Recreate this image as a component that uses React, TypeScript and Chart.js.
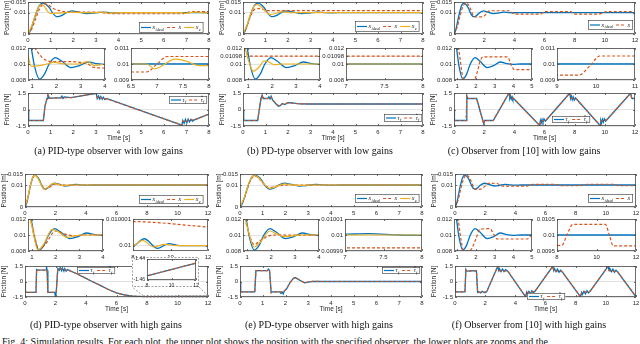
import React, { useEffect, useRef } from "react";
import { Chart, registerables } from "chart.js";

Chart.register(...registerables);

const BLUE = "#0072BD";
const RED = "#D95319";
const YEL = "#EDB120";
const SANS = "'Liberation Sans', Arial, Helvetica, sans-serif";
const SERIF = "'Liberation Serif', 'DejaVu Serif', serif";
const DASH = [3, 2];

// ---------- tick values ----------
const X8_TICKS = [0, 1, 2, 3, 4, 5, 6, 7, 8];
const X12_TICKS = [0, 2, 4, 6, 8, 10, 12];
const ZX4_TICKS = [1, 2, 3, 4];
const ZX5_TICKS = [1, 2, 3, 4, 5];
const POS_TICKS = [0, 0.01, 0.015];
const FRIC_TICKS = [-1.5, 0, 1.5];
const ZOOM_TICKS = [0.008, 0.01, 0.012];
const ZOOM_TICKS_B = [0.008, 0.01, 0.01098, 0.012];
const FINE_Y_A = [0.009, 0.01, 0.011];
const FINE_X_A = [6.5, 7, 7.5, 8];
const FINE_X_B = [7, 7.5, 8];
const FINE_Y_C = [0.009, 0.01, 0.011];
const FINE_X_C = [9, 10, 11];
const FINE_Y_D = [0.01, 0.010001];
const FINE_X_D = [8, 10, 12];
const FINE_Y_E = [0.00999, 0.01, 0.01001];
const FINE_X_E = [7, 7.5, 8];
const FINE_Y_F = [0.0095, 0.01, 0.0105];
const FINE_X_F = [8, 10, 12];
const INSET_D_X = [8, 10, 12];
const INSET_D_Y = [-1.46, -1.44];

// ---------- ideal position (shared) ----------
const IDEAL_T = [0, 0.1, 0.2, 0.35, 0.5, 0.65, 0.8, 0.95, 1.1, 1.3, 1.5, 1.7, 1.95, 2.2, 2.6, 2.95, 3.3, 3.65, 4.0, 4.4];
const IDEAL_X = [0, 0.0015, 0.0045, 0.0095, 0.0133, 0.0145, 0.0138, 0.0122, 0.0097, 0.0081, 0.0087, 0.01, 0.0108, 0.0104, 0.00955, 0.0098, 0.01025, 0.01005, 0.00995, 0.01];
const IDEAL_END_T = [12];
const IDEAL_END_X = [0.01];

// ---------- (a) PID low ----------
const A_X_T = [0, 0.15, 0.3, 0.5, 0.7, 0.9, 1.1, 1.3, 1.5, 1.8, 2.5, 3.0, 3.3, 3.5, 4.0, 6.8, 7.0, 7.2, 8];
const A_X_V = [0, 0.002, 0.006, 0.0115, 0.0142, 0.0136, 0.0121, 0.0112, 0.0106, 0.0103, 0.0103, 0.0102, 0.01, 0.0096, 0.0095, 0.0095, 0.01, 0.01047, 0.01047];
const A_E_T = [0, 0.2, 0.35, 0.5, 0.62, 0.75, 0.85, 0.97, 1.3, 1.6, 1.9, 2.3, 2.9, 3.3, 3.55, 3.8, 4.1, 6.8, 6.95, 7.05, 7.35, 7.55, 7.8, 8];
const A_E_V = [0, 0.0048, 0.0098, 0.0132, 0.0138, 0.0125, 0.0108, 0.0097, 0.0098, 0.01, 0.0102, 0.01, 0.01, 0.0103, 0.0098, 0.0099, 0.01, 0.01, 0.0097, 0.0098, 0.0103, 0.0102, 0.0099, 0.0099];
const A_TAU_T = [0, 0.03, 0.68, 0.75, 0.84, 0.88, 0.95, 1.2, 1.45, 1.5, 1.55, 1.6, 1.9, 3.02, 3.06, 3.12, 3.17, 3.22, 3.28, 3.33, 3.4, 3.47, 6.8, 6.84, 6.9, 6.96, 7.02, 7.08, 7.14, 7.2, 7.27, 7.35, 8];
const A_TAU_V = [0, -1.0, -1.0, 0.3, 1.0, 1.35, 1.02, 1.05, 1.05, 1.22, 1.0, 1.15, 1.08, 1.47, 1.0, 1.22, 0.95, 1.18, 0.92, 1.12, 0.9, 1.0, -1.42, -1.0, -1.25, -0.9, -1.2, -0.88, -1.12, -0.9, -1.05, -0.95, -0.42];
const A_TAUH_T = [0, 0.03, 0.68, 0.75, 0.84, 0.88, 0.95, 1.9, 3.02, 3.06, 3.2, 3.3, 3.47, 6.8, 6.84, 7.0, 7.1, 7.35, 8];
const A_TAUH_V = [0, -1.0, -1.0, 0.3, 1.0, 1.3, 1.02, 1.08, 1.47, 1.05, 1.12, 0.95, 0.98, -1.42, -1.05, -1.15, -0.92, -0.95, -0.42];

// ---------- (b) PD low ----------
const B_X_T = [0, 0.15, 0.3, 0.45, 0.6, 0.8, 1.0, 1.1, 8];
const B_X_V = [0, 0.003, 0.0075, 0.0108, 0.0118, 0.0119, 0.0111, 0.01098, 0.01098];
const B_E_T = [0, 0.2, 0.35, 0.5, 0.62, 0.8, 1.0, 1.22, 1.45, 1.68, 1.9, 2.1, 2.4, 8];
const B_E_V = [0, 0.0048, 0.0098, 0.0132, 0.0138, 0.0128, 0.0106, 0.0091, 0.0096, 0.0104, 0.0102, 0.0099, 0.01, 0.01];
const B_TAU_T = [0, 0.03, 0.65, 0.8, 0.85, 0.9, 1.1, 1.15, 1.2, 1.25, 1.32, 1.45, 1.57, 1.65, 1.75, 1.85, 2.0, 2.2, 2.5, 3.0, 8];
const B_TAU_V = [0, -1.0, -1.0, 1.0, 1.3, 1.0, 1.0, 1.15, 0.95, 1.2, 0.85, 0.55, 0.3, 0.35, 0.55, 0.45, 0.62, 0.6, 0.52, 0.5, 0.5];
const B_TAUH_T = [0, 0.03, 0.65, 0.8, 0.85, 0.9, 1.1, 1.25, 1.45, 1.57, 1.75, 2.0, 2.5, 3.0, 8];
const B_TAUH_V = [0, -1.0, -1.0, 1.0, 1.25, 1.0, 1.0, 1.1, 0.55, 0.35, 0.5, 0.6, 0.52, 0.5, 0.5];

// ---------- (c) observer [10] low ----------
const C_X_T = [0, 0.2, 0.4, 0.6, 0.8, 0.95, 1.1, 1.28, 1.4, 1.9, 2.05, 2.25, 2.4, 3.7, 3.85, 4.05, 5.75, 5.85, 6.05, 7.75, 7.85, 8.05, 9.55, 9.85, 10.1, 11.75, 11.9, 12];
const C_X_V = [0, 0.003, 0.0085, 0.013, 0.0145, 0.0138, 0.0116, 0.0086, 0.008, 0.008, 0.0088, 0.0105, 0.0109, 0.0109, 0.0101, 0.0093, 0.0093, 0.0099, 0.0105, 0.0105, 0.0099, 0.0093, 0.0093, 0.0099, 0.0105, 0.0105, 0.0101, 0.0098];
const C_TAU_T = [0, 0.03, 0.8, 0.85, 0.9, 1.5, 1.97, 2.03, 2.6, 3.65, 3.7, 3.75, 3.8, 3.85, 3.9, 3.95, 5.68, 5.73, 5.78, 5.84, 5.9, 5.97, 6.05, 6.12, 7.68, 7.73, 7.78, 7.84, 7.9, 7.97, 8.05, 8.12, 9.68, 9.73, 9.78, 9.84, 9.9, 9.97, 10.05, 10.12, 11.72, 11.77, 11.85, 12];
const C_TAU_V = [0, -1.0, -1.0, 1.25, 1.0, 1.0, -1.3, -1.0, -1.0, 1.5, 1.0, 1.2, 0.95, 1.15, 0.9, 1.0, -1.45, -1.0, -1.22, -0.9, -1.15, -0.85, -1.05, -0.95, 1.5, 1.0, 1.22, 0.9, 1.15, 0.85, 1.05, 0.95, -1.45, -1.0, -1.22, -0.9, -1.15, -0.85, -1.05, -0.95, 1.5, 1.05, 1.0, 1.0];
const C_TAUH_T = [0, 0.03, 0.8, 0.85, 0.9, 1.5, 1.97, 2.03, 2.6, 3.65, 3.72, 3.95, 5.68, 5.75, 6.12, 7.68, 7.75, 8.12, 9.68, 9.75, 10.12, 11.72, 11.78, 12];
const C_TAUH_V = [0, -1.0, -1.0, 1.2, 1.0, 1.0, -1.3, -1.0, -1.0, 1.5, 1.05, 1.0, -1.45, -1.05, -0.95, 1.5, 1.05, 0.95, -1.45, -1.05, -0.95, 1.5, 1.05, 1.0];

// ---------- (d) PID high ----------
const D_IDEAL_TAIL_T = [7.6, 8.0, 8.6, 9.3, 9.9, 10.5, 12];
const D_IDEAL_TAIL_X = [0.01, 0.01, 0.01000026, 0.0099999, 0.01000008, 0.01, 0.01];
const D_X_T = [0, 0.2, 0.35, 0.5, 0.65, 0.8, 1.0, 1.3, 1.55, 2.0, 2.4, 2.8, 3.2, 8, 12];
const D_X_V = [0, 0.0045, 0.0095, 0.0132, 0.0143, 0.0137, 0.0113, 0.0082, 0.0088, 0.0105, 0.0101, 0.0099, 0.01, 0.0100009, 0.0100007];
const D_E_T = [0, 0.2, 0.35, 0.5, 0.63, 0.8, 1.0, 1.25, 1.5, 1.85, 2.1, 2.5, 2.8, 3.1, 7.6, 8.0, 8.5, 9.1, 9.7, 10.3, 12];
const D_E_V = [0, 0.0047, 0.0097, 0.0134, 0.0144, 0.0136, 0.011, 0.0081, 0.0089, 0.0107, 0.0104, 0.0097, 0.0099, 0.01, 0.01, 0.01, 0.0100002, 0.00999995, 0.01000005, 0.01, 0.01];
const D_TAU_T = [0, 0.03, 0.72, 0.76, 0.82, 1.38, 1.41, 1.45, 1.5, 1.95, 2.0, 2.05, 2.15, 2.25, 2.3, 2.4, 2.45, 2.55, 2.6, 2.7, 2.8, 3.0, 3.4, 4.0, 4.4, 4.9, 5.5, 6.0, 6.5, 7.1, 7.75, 8, 12];
const D_TAU_V = [0, -1.05, -1.05, 1.15, 1.1, 1.12, 1.45, 1.1, -1.05, -1.05, -1.45, -1.0, 1.25, 1.1, 1.35, 1.05, 1.3, 1.0, 1.25, 1.0, 1.15, 1.0, 0.75, 0.3, 0.0, -0.35, -0.8, -1.1, -1.3, -1.42, -1.455, -1.456, -1.444];
const D_TAUH_T = [0, 0.03, 0.72, 0.76, 0.82, 1.45, 1.5, 1.95, 2.05, 2.15, 2.3, 2.5, 2.8, 3.0, 3.4, 4.0, 4.4, 4.9, 5.5, 6.0, 6.5, 7.1, 7.75, 8, 12];
const D_TAUH_V = [0, -1.05, -1.05, 1.15, 1.1, 1.1, -1.05, -1.05, -1.0, 1.2, 1.25, 1.15, 1.1, 1.0, 0.75, 0.3, 0.0, -0.35, -0.8, -1.1, -1.3, -1.42, -1.455, -1.456, -1.444];

// ---------- (e) PD high ----------
const E_IDEAL_TAIL_T = [6.8, 7.0, 7.3, 7.7, 8.0];
const E_IDEAL_TAIL_X = [0.0100004, 0.0100005, 0.0100008, 0.01, 0.0099998];
const E_X_T = [0, 0.2, 0.35, 0.5, 0.65, 0.8, 1.0, 1.3, 1.55, 1.9, 2.3, 3.0, 8];
const E_X_V = [0, 0.0042, 0.009, 0.0128, 0.014, 0.0133, 0.011, 0.0088, 0.0093, 0.0099, 0.01, 0.009992, 0.009992];
const E_E_T = [0, 0.2, 0.35, 0.5, 0.63, 0.8, 1.0, 1.3, 1.55, 1.95, 2.2, 2.55, 2.9, 3.2, 8];
const E_E_V = [0, 0.0047, 0.0097, 0.0133, 0.0143, 0.0135, 0.0111, 0.0085, 0.0091, 0.0105, 0.0102, 0.0098, 0.0099, 0.01, 0.01];
const E_TAU_T = [0, 0.03, 0.65, 0.7, 1.2, 1.25, 1.3, 1.37, 1.42, 1.75, 1.8, 1.85, 1.9, 1.95, 2.05, 2.2, 2.35, 2.43, 2.65, 2.84, 3.0, 3.2, 3.5, 8];
const E_TAU_V = [0, -1.0, -1.0, 1.05, 1.05, 1.2, 1.05, -1.08, -1.0, -1.0, -1.15, -1.0, -1.2, -0.9, -0.7, -0.1, 0.32, 0.38, 0.1, -0.13, -0.05, 0.02, 0, 0];
const E_TAUH_T = [0, 0.03, 0.65, 0.7, 1.25, 1.3, 1.37, 1.45, 1.9, 2.05, 2.2, 2.35, 2.43, 2.65, 2.84, 3.0, 3.2, 3.5, 8];
const E_TAUH_V = [0, -1.0, -1.0, 1.05, 1.05, 1.05, -1.1, -1.0, -1.0, -0.7, -0.1, 0.32, 0.38, 0.1, -0.13, -0.05, 0.02, 0, 0];

// ---------- (f) observer [10] high ----------
const F_X_T = [0, 0.2, 0.4, 0.6, 0.75, 0.9, 1.05, 1.2, 1.35, 1.7, 2.0, 2.2, 2.75, 2.95, 3.15, 4.75, 5.0, 5.25, 6.6, 6.8, 7.0, 8.25, 8.5, 8.8, 10.45, 10.65, 10.85, 12];
const F_X_V = [0, 0.003, 0.0088, 0.0132, 0.0145, 0.0138, 0.012, 0.0095, 0.008, 0.0081, 0.0095, 0.0107, 0.0108, 0.0101, 0.0095, 0.0095, 0.0101, 0.0103, 0.0103, 0.01, 0.00966, 0.00968, 0.01, 0.01033, 0.01033, 0.01, 0.00966, 0.00966];
const F_TAU_T = [0, 0.03, 0.66, 0.72, 0.78, 1.42, 1.5, 1.55, 1.7, 1.8, 1.95, 2.1, 2.83, 2.9, 2.95, 3.05, 3.15, 3.25, 3.35, 3.5, 4.68, 4.75, 4.8, 4.9, 5.0, 5.1, 5.2, 5.3, 6.48, 6.55, 6.6, 6.7, 6.8, 6.9, 7.0, 7.1, 8.32, 8.4, 8.45, 8.55, 8.65, 8.75, 8.85, 8.95, 10.15, 10.22, 10.27, 10.37, 10.47, 10.57, 10.67, 10.77, 12];
const F_TAU_V = [0, -1.0, -1.0, 1.15, 1.0, 1.05, -1.05, -1.0, -1.1, -0.95, -1.1, -1.0, 1.45, 1.05, 1.25, 0.95, 1.2, 0.95, 1.15, 1.0, -1.48, -1.05, -1.25, -0.95, -1.2, -0.9, -1.1, -0.95, 1.47, 1.05, 1.25, 0.95, 1.2, 0.9, 1.1, 0.95, -1.48, -1.05, -1.25, -0.95, -1.2, -0.9, -1.1, -0.95, 1.47, 1.05, 1.25, 0.95, 1.2, 0.9, 1.1, 0.95, -1.48];
const F_TAUH_T = [0, 0.03, 0.66, 0.72, 0.78, 1.42, 1.5, 2.1, 2.83, 2.9, 3.5, 4.68, 4.75, 5.3, 6.48, 6.55, 7.1, 8.32, 8.4, 8.95, 10.15, 10.22, 10.77, 12];
const F_TAUH_V = [0, -1.0, -1.0, 1.1, 1.0, 1.05, -1.05, -1.0, 1.45, 1.05, 1.0, -1.48, -1.05, -0.95, 1.47, 1.05, 0.95, -1.48, -1.05, -0.95, 1.47, 1.05, 0.95, -1.48];

// ---------- layout ----------
const PL = 40, PR = 12, PT = 6, PB = 22;

type Ser = { t: number[]; v: number[]; color: string; dash?: number[]; width?: number; smooth?: boolean };
type LegItem = { color: string; dash?: number[]; base: string; sub?: string; hat?: boolean };
type Legend = { r: number; t: number; h: number; items: LegItem[] };

function drawLegend(ctx: any, lg: Legend, ox: number, oy: number) {
  const fs = 6, sfs = 4.3, sample = 10;
  const parts = lg.items.map((it) => {
    ctx.font = `italic ${fs}px ${SERIF}`;
    const bw = ctx.measureText(it.base).width;
    ctx.font = `italic ${sfs}px ${SERIF}`;
    const sw = it.sub ? ctx.measureText(it.sub).width + 0.3 : 0;
    return { it, bw, sw };
  });
  let total = 2;
  parts.forEach((q) => (total += sample + 1.5 + q.bw + q.sw + 3));
  const x0 = Math.round(lg.r - ox - total), y0 = Math.round(lg.t - oy);
  ctx.setLineDash([]);
  ctx.fillStyle = "#fff";
  ctx.fillRect(x0, y0, total, lg.h);
  ctx.strokeStyle = "#333";
  ctx.lineWidth = 0.6;
  ctx.strokeRect(x0 + 0.5, y0 + 0.5, total - 1, lg.h - 1);
  let x = x0 + 2;
  const cy = y0 + lg.h / 2;
  for (const q of parts) {
    ctx.strokeStyle = q.it.color;
    ctx.lineWidth = 1.2;
    ctx.setLineDash(q.it.dash ?? []);
    ctx.beginPath();
    ctx.moveTo(x, cy);
    ctx.lineTo(x + sample, cy);
    ctx.stroke();
    ctx.setLineDash([]);
    x += sample + 1.5;
    ctx.fillStyle = "#222";
    ctx.textAlign = "left";
    ctx.textBaseline = "alphabetic";
    ctx.font = `italic ${fs}px ${SERIF}`;
    const base = cy + 1.5;
    ctx.fillText(q.it.base, x, base);
    if (q.it.hat) {
      ctx.strokeStyle = "#222";
      ctx.lineWidth = 0.5;
      ctx.beginPath();
      ctx.moveTo(x + q.bw * 0.2, base - 4.3);
      ctx.lineTo(x + q.bw * 0.6, base - 5.8);
      ctx.lineTo(x + q.bw * 1.0, base - 4.3);
      ctx.stroke();
    }
    x += q.bw;
    if (q.it.sub) {
      ctx.font = `italic ${sfs}px ${SERIF}`;
      ctx.fillText(q.it.sub, x + 0.3, base + 1.6);
      x += q.sw;
    }
    x += 3;
  }
}

type PlotP = {
  box: number[];
  xr: number[];
  xt: number[];
  yr: number[];
  yt: number[];
  series: Ser[];
  yTitle?: string;
  xTitle?: string;
  legend?: Legend;
  fs?: number;
  frame?: number[];
  overlay?: (ctx: any, chart: any, ox: number, oy: number) => void;
};

function Plot(p: PlotP) {
  const ref = useRef<HTMLCanvasElement | null>(null);
  const l = Math.round(p.box[0]), t = Math.round(p.box[1]), r = Math.round(p.box[2]), b = Math.round(p.box[3]);
  const cl = l - PL, ct = t - PT, cw = r - l + PL + PR, ch = b - t + PT + PB;
  useEffect(() => {
    const canvas = ref.current;
    if (!canvas) return;
    const fs = p.fs ?? 6;
    const xl = p.xt.map((v) => String(v));
    const yl = p.yt.map((v) => String(v));
    const plugin = {
      id: "matlabBox",
      beforeDraw(c: any) {
        const ctx = c.ctx;
        ctx.save();
        ctx.fillStyle = "#fff";
        if (p.frame) {
          const [fl, ft, fr, fb] = p.frame;
          ctx.fillRect(fl - cl, ft - ct, fr - fl, fb - ft);
          ctx.strokeStyle = "#8a8a8a";
          ctx.lineWidth = 0.8;
          ctx.setLineDash([2, 1.5]);
          ctx.strokeRect(fl - cl + 0.5, ft - ct + 0.5, fr - fl - 1, fb - ft - 1);
        } else {
          const a = c.chartArea;
          ctx.fillRect(a.left, a.top, a.right - a.left, a.bottom - a.top);
        }
        ctx.restore();
      },
      afterDatasetsDraw(c: any) {
        const ctx = c.ctx;
        const a = c.chartArea;
        const xs = c.scales.x, ys = c.scales.y;
        ctx.save();
        ctx.setLineDash([]);
        ctx.strokeStyle = "#4a4a4a";
        ctx.lineWidth = 0.8;
        ctx.strokeRect(a.left + 0.5, a.top + 0.5, a.right - a.left - 1, a.bottom - a.top - 1);
        ctx.beginPath();
        for (const v of p.xt) {
          const px = Math.round(xs.getPixelForValue(v)) + 0.5;
          ctx.moveTo(px, a.bottom);
          ctx.lineTo(px, a.bottom - 2);
          ctx.moveTo(px, a.top);
          ctx.lineTo(px, a.top + 2);
        }
        for (const v of p.yt) {
          const py = Math.round(ys.getPixelForValue(v)) + 0.5;
          ctx.moveTo(a.left, py);
          ctx.lineTo(a.left + 2, py);
          ctx.moveTo(a.right, py);
          ctx.lineTo(a.right - 2, py);
        }
        ctx.stroke();
        ctx.fillStyle = "#262626";
        ctx.font = `6.5px ${SANS}`;
        ctx.textAlign = "center";
        ctx.textBaseline = "middle";
        if (p.yTitle) {
          ctx.save();
          ctx.translate(a.left - 20.5, (a.top + a.bottom) / 2);
          ctx.rotate(-Math.PI / 2);
          ctx.fillText(p.yTitle, 0, 0);
          ctx.restore();
        }
        if (p.xTitle) {
          ctx.fillText(p.xTitle, (a.left + a.right) / 2, a.bottom + 12);
        }
        if (p.overlay) p.overlay(ctx, c, cl, ct);
        if (p.legend) drawLegend(ctx, p.legend, cl, ct);
        ctx.restore();
      },
    };
    const tickFont = { family: SANS, size: fs };
    const chart = new Chart(canvas, {
      type: "line",
      data: {
        datasets: p.series.map((s, i) => ({
          data: s.t.map((tt, k) => ({ x: tt, y: s.v[k] })),
          borderColor: s.color,
          borderWidth: s.width ?? 1.2,
          borderDash: s.dash ?? [],
          pointRadius: 0,
          fill: false,
          tension: 0,
          order: -i,
          cubicInterpolationMode: s.smooth ? "monotone" : "default",
          capBezierPoints: false,
          clip: 0,
        })),
      },
      options: {
        animation: false,
        responsive: false,
        maintainAspectRatio: false,
        events: [],
        layout: { padding: { left: 0, right: PR, top: PT, bottom: 0 } },
        plugins: { legend: { display: false }, tooltip: { enabled: false } },
        scales: {
          x: {
            type: "linear",
            position: "bottom",
            min: p.xr[0],
            max: p.xr[1],
            afterBuildTicks: (s: any) => {
              s.ticks = p.xt.map((v) => ({ value: v }));
            },
            afterFit: (s: any) => {
              s.height = PB;
              s.paddingLeft = 0;
              s.paddingRight = 0;
            },
            grid: { display: false, drawTicks: false },
            border: { display: false },
            ticks: {
              autoSkip: false,
              maxRotation: 0,
              minRotation: 0,
              padding: 2.5,
              font: tickFont,
              color: "#262626",
              callback: (_v: any, i: number) => xl[i],
            },
          },
          y: {
            type: "linear",
            position: "left",
            min: p.yr[0],
            max: p.yr[1],
            afterBuildTicks: (s: any) => {
              s.ticks = p.yt.map((v) => ({ value: v }));
            },
            afterFit: (s: any) => {
              s.width = PL;
              s.paddingTop = 0;
              s.paddingBottom = 0;
            },
            grid: { display: true, drawTicks: false, color: "#e2e2e2", lineWidth: 1 },
            border: { display: false },
            ticks: {
              autoSkip: false,
              padding: 2,
              font: tickFont,
              color: "#262626",
              callback: (_v: any, i: number) => yl[i],
            },
          },
        },
      },
      plugins: [plugin],
    } as any);
    return () => chart.destroy();
  }, []);
  return (
    <canvas
      ref={ref}
      width={cw}
      height={ch}
      style={{ position: "absolute", left: cl, top: ct, width: cw, height: ch }}
    />
  );
}

// ---------- series helpers ----------
const ideal = (t: number[], v: number[]): Ser => ({ t, v, color: BLUE, smooth: true, width: 1.3 });
const meas = (t: number[], v: number[]): Ser => ({ t, v, color: RED, dash: DASH, smooth: true, width: 1.2 });
const est = (t: number[], v: number[]): Ser => ({ t, v, color: YEL, smooth: true, width: 1.2 });
const tau = (t: number[], v: number[]): Ser => ({ t, v, color: BLUE, width: 1.3 });
const tauh = (t: number[], v: number[]): Ser => ({ t, v, color: RED, dash: DASH, width: 1.2 });

const POS3: LegItem[] = [
  { color: BLUE, base: "x", sub: "ideal" },
  { color: RED, dash: DASH, base: "x" },
  { color: YEL, base: "x", sub: "e" },
];
const POS2: LegItem[] = POS3.slice(0, 2);
const FRIC: LegItem[] = [
  { color: BLUE, base: "τ", sub: "f" },
  { color: RED, dash: DASH, base: "τ", sub: "f", hat: true },
];

const ROWS = [
  { main: [2, 34], ins: [48, 80], fric: [93, 126], cap: 151 },
  { main: [174, 207], ins: [219, 251], fric: [266, 297], cap: 325 },
];

const IDEAL_FULL_T = IDEAL_T.concat(IDEAL_END_T);
const IDEAL_FULL_X = IDEAL_X.concat(IDEAL_END_X);

type PanelCfg = {
  caption: string;
  capX: number;
  row: number;
  main: number[];
  L: number[];
  R: number[];
  xMax: number;
  xTicks: number[];
  lx: number[];
  lxt: number[];
  lyt: number[];
  rx: number[];
  rxt: number[];
  ry: number[];
  ryt: number[];
  pos: Ser[];
  fric: Ser[];
  posLeg: Legend;
  fricLeg: Legend;
  fricOverlay?: any;
};

const DZ_RECT = { x0: 7.75, x1: 12, y0: -1.52, y1: -1.38 };
const DZ_FRAME = [132, 257, 199, 287];

const PANELS: PanelCfg[] = [
  {
    caption: "(a) PID-type observer with low gains",
    capX: 108.5, row: 0,
    main: [27.7, 209.3], L: [28.3, 105], R: [131, 209.3],
    xMax: 8, xTicks: X8_TICKS,
    lx: [0.83, 4], lxt: ZX4_TICKS, lyt: ZOOM_TICKS,
    rx: [6.5, 8], rxt: FINE_X_A, ry: [0.009, 0.011], ryt: FINE_Y_A,
    pos: [ideal(IDEAL_FULL_T, IDEAL_FULL_X), meas(A_X_T, A_X_V), est(A_E_T, A_E_V)],
    fric: [tau(A_TAU_T, A_TAU_V), tauh(A_TAUH_T, A_TAUH_V)],
    posLeg: { r: 204, t: 22, h: 11, items: POS3 },
    fricLeg: { r: 207, t: 96, h: 8, items: FRIC },
  },
  {
    caption: "(b) PD-type observer with low gains",
    capX: 320, row: 0,
    main: [242.7, 423.3], L: [244.3, 320], R: [346, 423.3],
    xMax: 8, xTicks: X8_TICKS,
    lx: [0.83, 4], lxt: ZX4_TICKS, lyt: ZOOM_TICKS_B,
    rx: [7, 8], rxt: FINE_X_B, ry: [0.008, 0.012], ryt: ZOOM_TICKS_B,
    pos: [ideal(IDEAL_FULL_T, IDEAL_FULL_X), meas(B_X_T, B_X_V), est(B_E_T, B_E_V)],
    fric: [tau(B_TAU_T, B_TAU_V), tauh(B_TAUH_T, B_TAUH_V)],
    posLeg: { r: 420, t: 21, h: 11, items: POS3 },
    fricLeg: { r: 422, t: 114, h: 8, items: FRIC },
  },
  {
    caption: "(c) Observer from [10] with low gains",
    capX: 524, row: 0,
    main: [454.3, 635], L: [454.3, 531.7], R: [556.7, 635],
    xMax: 12, xTicks: X12_TICKS,
    lx: [0.83, 5], lxt: ZX5_TICKS, lyt: ZOOM_TICKS,
    rx: [9, 11], rxt: FINE_X_C, ry: [0.009, 0.011], ryt: FINE_Y_C,
    pos: [ideal(IDEAL_FULL_T, IDEAL_FULL_X), meas(C_X_T, C_X_V)],
    fric: [tau(C_TAU_T, C_TAU_V), tauh(C_TAUH_T, C_TAUH_V)],
    posLeg: { r: 633, t: 20, h: 10, items: POS2 },
    fricLeg: { r: 590, t: 116, h: 7, items: FRIC },
  },
  {
    caption: "(d) PID-type observer with high gains",
    capX: 106, row: 1,
    main: [25, 208.3], L: [28.3, 103.3], R: [132.7, 208.3],
    xMax: 12, xTicks: X12_TICKS,
    lx: [0.83, 4], lxt: ZX4_TICKS, lyt: ZOOM_TICKS,
    rx: [8, 12], rxt: FINE_X_D, ry: [0.0099998, 0.010001], ryt: FINE_Y_D,
    pos: [
      ideal(IDEAL_T.concat(D_IDEAL_TAIL_T), IDEAL_X.concat(D_IDEAL_TAIL_X)),
      meas(D_X_T, D_X_V),
      est(D_E_T, D_E_V),
    ],
    fric: [tau(D_TAU_T, D_TAU_V), tauh(D_TAUH_T, D_TAUH_V)],
    posLeg: { r: 204, t: 195, h: 9, items: POS3 },
    fricLeg: { r: 115, t: 267, h: 7, items: FRIC },
    fricOverlay: (ctx: any, c: any, ox: number, oy: number) => {
      const xs = c.scales.x, ys = c.scales.y;
      const x0 = xs.getPixelForValue(DZ_RECT.x0), x1 = xs.getPixelForValue(DZ_RECT.x1);
      const y0 = ys.getPixelForValue(DZ_RECT.y1), y1 = ys.getPixelForValue(DZ_RECT.y0);
      ctx.save();
      ctx.strokeStyle = "#8a8a8a";
      ctx.lineWidth = 0.8;
      ctx.setLineDash([2, 1.5]);
      ctx.strokeRect(x0, y0, x1 - x0, y1 - y0);
      ctx.beginPath();
      ctx.moveTo(x0, y0);
      ctx.lineTo(DZ_FRAME[0] - ox, DZ_FRAME[3] - oy);
      ctx.moveTo(x1, y0);
      ctx.lineTo(DZ_FRAME[2] - ox, DZ_FRAME[3] - oy);
      ctx.stroke();
      ctx.restore();
    },
  },
  {
    caption: "(e) PD-type observer with high gains",
    capX: 319, row: 1,
    main: [240, 421.7], L: [243.3, 319], R: [345, 421.7],
    xMax: 8, xTicks: X8_TICKS,
    lx: [0.83, 4], lxt: ZX4_TICKS, lyt: ZOOM_TICKS,
    rx: [7, 8], rxt: FINE_X_E, ry: [0.00999, 0.01001], ryt: FINE_Y_E,
    pos: [
      ideal(IDEAL_T.concat(E_IDEAL_TAIL_T), IDEAL_X.concat(E_IDEAL_TAIL_X)),
      meas(E_X_T, E_X_V),
      est(E_E_T, E_E_V),
    ],
    fric: [tau(E_TAU_T, E_TAU_V), tauh(E_TAUH_T, E_TAUH_V)],
    posLeg: { r: 420, t: 194, h: 9, items: POS3 },
    fricLeg: { r: 420, t: 267, h: 7, items: FRIC },
  },
  {
    caption: "(f) Observer from [10] with high gains",
    capX: 529, row: 1,
    main: [455, 635.7], L: [454.3, 531.7], R: [556.7, 635.7],
    xMax: 12, xTicks: X12_TICKS,
    lx: [0.83, 5], lxt: ZX5_TICKS, lyt: ZOOM_TICKS,
    rx: [8, 12], rxt: FINE_X_F, ry: [0.0095, 0.0105], ryt: FINE_Y_F,
    pos: [ideal(IDEAL_FULL_T, IDEAL_FULL_X), meas(F_X_T, F_X_V)],
    fric: [tau(F_TAU_T, F_TAU_V), tauh(F_TAUH_T, F_TAUH_V)],
    posLeg: { r: 633, t: 194, h: 9, items: POS2 },
    fricLeg: { r: 565, t: 293, h: 7, items: FRIC },
  },
];

function Panel({ cfg }: { cfg: PanelCfg }) {
  const row = ROWS[cfg.row];
  return (
    <>
      <Plot
        box={[cfg.main[0], row.main[0], cfg.main[1], row.main[1]]}
        xr={[0, cfg.xMax]} xt={cfg.xTicks} yr={[0, 0.015]} yt={POS_TICKS}
        series={cfg.pos} yTitle="Position [m]" legend={cfg.posLeg}
      />
      <Plot
        box={[cfg.L[0], row.ins[0], cfg.L[1], row.ins[1]]}
        xr={cfg.lx} xt={cfg.lxt} yr={[0.008, 0.012]} yt={cfg.lyt}
        series={cfg.pos}
      />
      <Plot
        box={[cfg.R[0], row.ins[0], cfg.R[1], row.ins[1]]}
        xr={cfg.rx} xt={cfg.rxt} yr={cfg.ry} yt={cfg.ryt}
        series={cfg.pos}
      />
      <Plot
        box={[cfg.main[0], row.fric[0], cfg.main[1], row.fric[1]]}
        xr={[0, cfg.xMax]} xt={cfg.xTicks} yr={[-1.5, 1.5]} yt={FRIC_TICKS}
        series={cfg.fric} yTitle="Friction [N]" xTitle="Time [s]" legend={cfg.fricLeg}
        overlay={cfg.fricOverlay}
      />
      <div
        style={{
          position: "absolute",
          left: cfg.capX - 110,
          width: 220,
          top: row.cap - 6,
          textAlign: "center",
          font: `10px ${SERIF}`,
          lineHeight: "12px",
          color: "#111",
          whiteSpace: "nowrap",
        }}
      >
        {cfg.caption}
      </div>
    </>
  );
}

export default function App() {
  const d = PANELS[3];
  return (
    <div
      style={{
        position: "absolute",
        left: 0,
        top: 0,
        width: 640,
        height: 344,
        overflow: "hidden",
        background: "#fff",
      }}
    >
      {PANELS.map((cfg, i) => (
        <Panel key={i} cfg={cfg} />
      ))}
      <Plot
        box={[147, 259, 196, 280]}
        xr={[8, 12]} xt={INSET_D_X} yr={[-1.46, -1.44]} yt={INSET_D_Y}
        series={d.fric} fs={5} frame={DZ_FRAME}
      />
      <div
        style={{
          position: "absolute",
          left: 2,
          top: 336,
          font: `10px ${SERIF}`,
          lineHeight: "12px",
          color: "#111",
          whiteSpace: "nowrap",
        }}
      >
        Fig. 4: Simulation results. For each plot, the upper plot shows the position with the specified observer, the lower plots are zooms and the
      </div>
    </div>
  );
}
